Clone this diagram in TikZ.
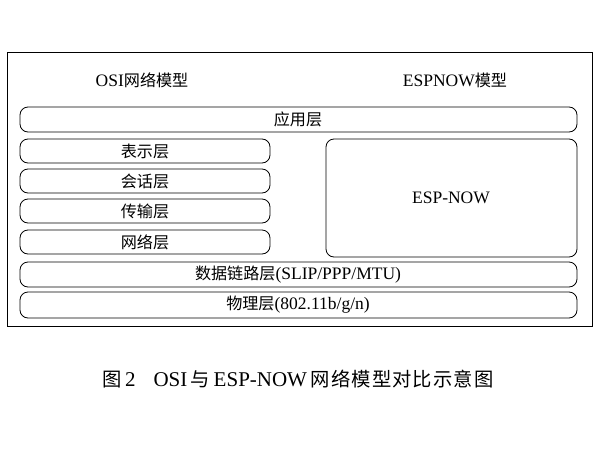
\documentclass[tikz,border=0pt]{standalone}
\usepackage{fontspec}
\setmainfont{Liberation Serif}
\newfontfamily\cjkf{Noto Sans CJK SC}[Scale=0.92]
\newcommand\cj[1]{{\cjkf #1}}
\begin{document}
\begin{tikzpicture}[x=1pt,y=-1pt,
  layer/.style={draw,thick,rounded corners=8pt},
  lbl/.style={font=\fontsize{17.5}{19}\selectfont},
  every node/.style={inner sep=0pt}]
\useasboundingbox (0,0) rectangle (600,450);
\draw[thick] (7,52) rectangle (592,326);
\node[lbl] (osi) at (142,80) {OSI\cj{网络模型}};
\node[lbl] (esp) at (455,80) {ESPNOW\cj{模型}};
\draw[layer] (20,107) rectangle (577,132); \node[lbl] (app) at (298,119.5) {\cj{应用层}};
\draw[layer] (20,139) rectangle (270,163); \node[lbl] (pre) at (145,151) {\cj{表示层}};
\draw[layer] (20,169) rectangle (270,193); \node[lbl] (ses) at (145,181) {\cj{会话层}};
\draw[layer] (20,199) rectangle (270,223); \node[lbl] (tra) at (145,211) {\cj{传输层}};
\draw[layer] (20,230) rectangle (270,254); \node[lbl] (net) at (145,242) {\cj{网络层}};
\draw[layer] (326,139) rectangle (577,257); \node[lbl] (now) at (451,198) {ESP-NOW};
\draw[layer] (20,262) rectangle (577,287); \node[lbl] (dl) at (298,274.5) {\cj{数据链路层}(SLIP/PPP/MTU)};
\draw[layer] (20,292) rectangle (577,318); \node[lbl] (ph) at (298,305) {\cj{物理层}(802.11b/g/n)};
\node[font=\fontsize{21}{23}\selectfont] (cap) at (298,379) {\cj{图}\,2\hspace{18pt}OSI\,\cj{与}\,ESP-NOW\,\cj{\addfontfeature{LetterSpace=6}网络模型对比示意图}};
\end{tikzpicture}
\end{document}
